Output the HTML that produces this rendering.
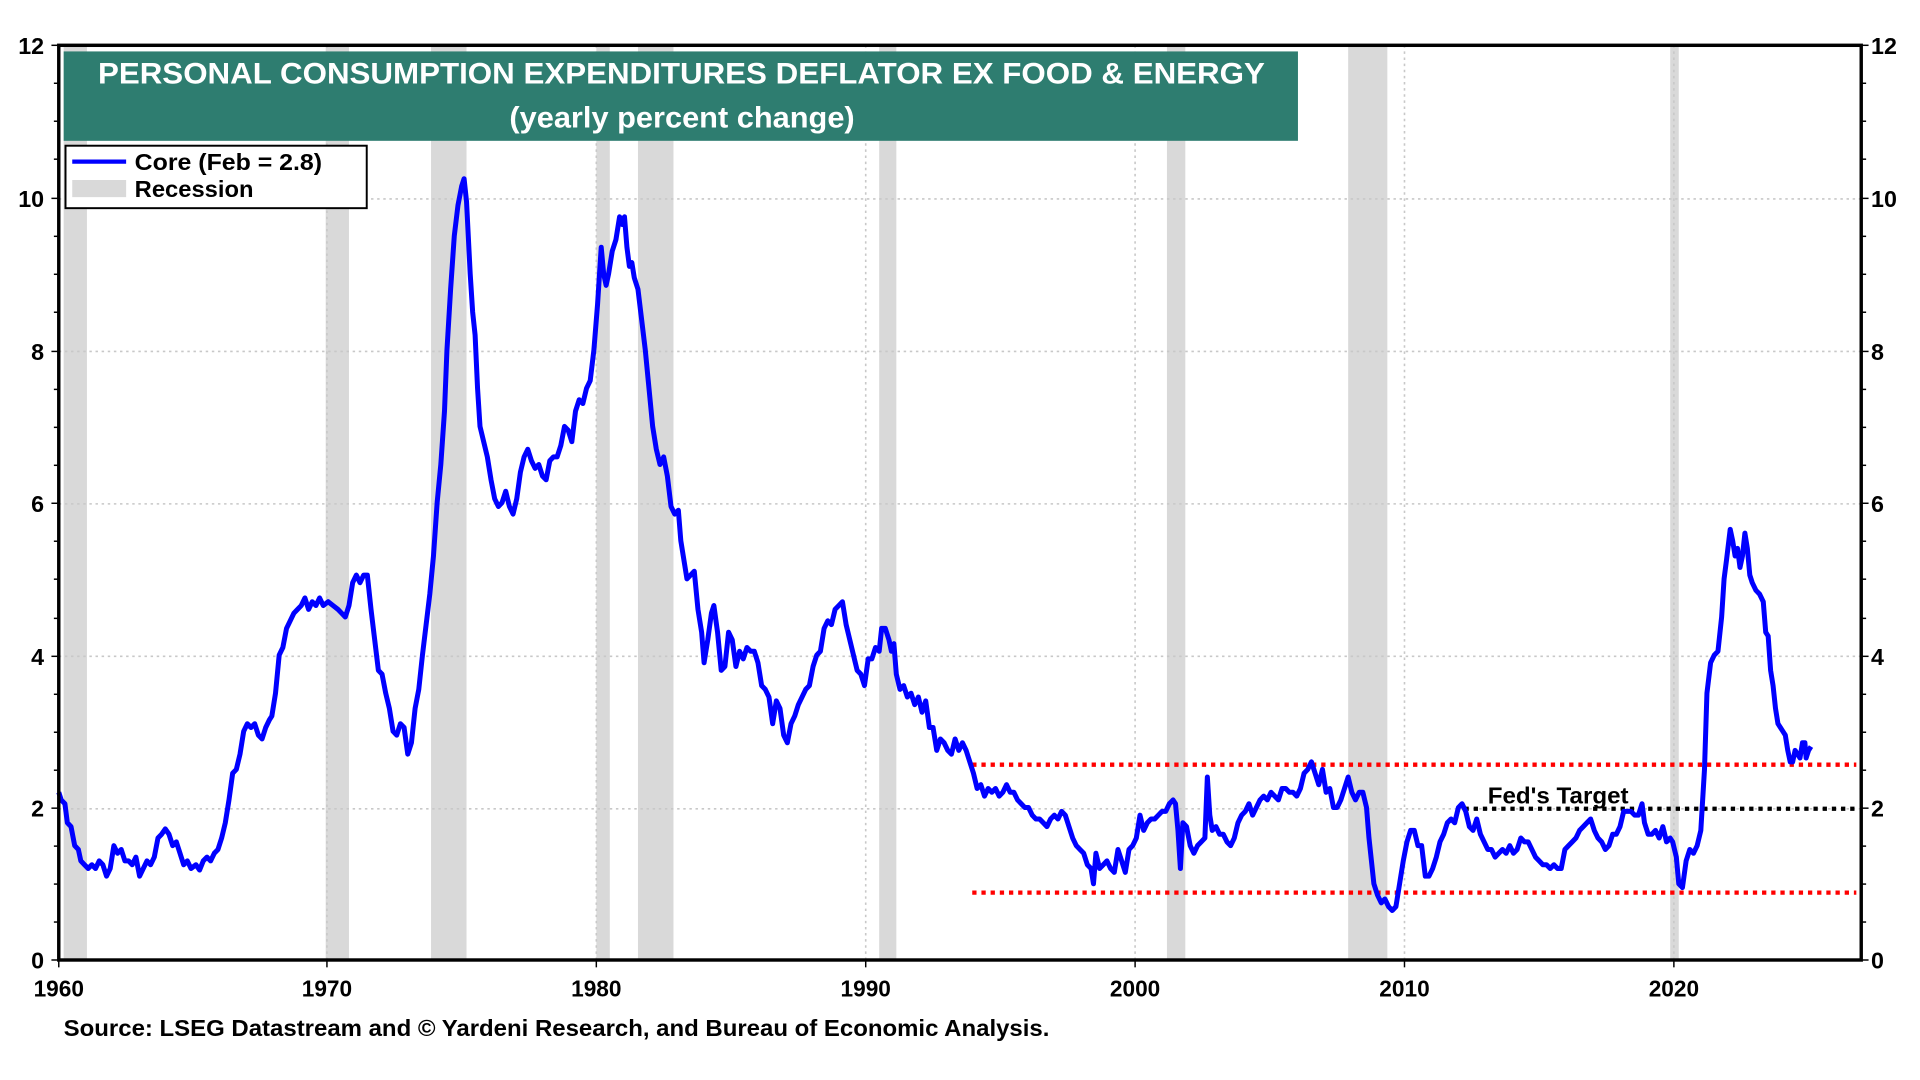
<!DOCTYPE html>
<html><head><meta charset="utf-8"><style>
html,body{margin:0;padding:0;background:#fff}
svg{display:block}
text{font-family:"Liberation Sans",Arial,sans-serif;font-weight:bold}
</style></head><body>
<svg width="1920" height="1080" viewBox="0 0 1568 882" xmlns="http://www.w3.org/2000/svg">
<rect width="1568" height="882" fill="#fff"/>
<g fill="#d9d9d9">
<rect x="52" y="37" width="19" height="747"/>
<rect x="266" y="37" width="19" height="747"/>
<rect x="352" y="37" width="29" height="747"/>
<rect x="487" y="37" width="11" height="747"/>
<rect x="521" y="37" width="29" height="747"/>
<rect x="718" y="37" width="14" height="747"/>
<rect x="953" y="37" width="15" height="747"/>
<rect x="1101" y="37" width="32" height="747"/>
<rect x="1364" y="37" width="7" height="747"/>
</g>
<g stroke="#c8c8c8" stroke-width="1.3" stroke-dasharray="2,3">
<line x1="48" x2="1520" y1="162.5" y2="162.5"/>
<line x1="48" x2="1520" y1="287" y2="287"/>
<line x1="48" x2="1520" y1="411.5" y2="411.5"/>
<line x1="48" x2="1520" y1="536" y2="536"/>
<line x1="48" x2="1520" y1="660.5" y2="660.5"/>
<line x1="267" x2="267" y1="37" y2="784"/>
<line x1="487" x2="487" y1="37" y2="784"/>
<line x1="707" x2="707" y1="37" y2="784"/>
<line x1="927" x2="927" y1="37" y2="784"/>
<line x1="1147" x2="1147" y1="37" y2="784"/>
<line x1="1367" x2="1367" y1="37" y2="784"/>
</g>
<g stroke-width="3.5" stroke-dasharray="3.5,4">
<line x1="794" x2="1516" y1="624.5" y2="624.5" stroke="#ff0000"/>
<line x1="794" x2="1516" y1="729" y2="729" stroke="#ff0000"/>
<line x1="1196" x2="1516" y1="660.5" y2="660.5" stroke="#000"/>
</g>
<text x="1215" y="656" font-size="19" textLength="115" lengthAdjust="spacingAndGlyphs">Fed's Target</text>
<g transform="translate(0,784) scale(1,-62.25)">
<polyline fill="none" stroke="#0000ff" stroke-width="5" vector-effect="non-scaling-stroke" stroke-linejoin="round" points="
48,2.2 50,2.1 53,2.05 55,1.8 58,1.75 61,1.5 64,1.45 66,1.3 69,1.25 72,1.2 75,1.25 78,1.2 81,1.3 84,1.25 87,1.1 90,1.2 93,1.5 96,1.4 99,1.45 102,1.3 105,1.3 108,1.25 111,1.35 114,1.1 117,1.2 120,1.3 123,1.25 126,1.35 129,1.6 132,1.65 135,1.72 138,1.65 141,1.5 144,1.55 147,1.4 150,1.25 153,1.3 156,1.2 160,1.25 163,1.18 166,1.3 169,1.35 172,1.3 175,1.4 178,1.45 181,1.6 184,1.8 187,2.1 190,2.45 193,2.5 196,2.7 199,3.0 202,3.1 205,3.05 208,3.1 211,2.95 214,2.9 217,3.05 220,3.15 222,3.2 225,3.5 228,4.0 231,4.1 234,4.35 237,4.45 240,4.55 243,4.6 246,4.65 249,4.75 252,4.6 255,4.7 258,4.65 261,4.75 264,4.65 268,4.7 272,4.65 276,4.6 279,4.55 282,4.5 285,4.65 288,4.95 291,5.05 294,4.95 297,5.05 300,5.05 303,4.6 306,4.2 309,3.8 312,3.75 315,3.5 318,3.3 321,3.0 324,2.95 327,3.1 330,3.05 333,2.7 336,2.85 339,3.3 342,3.55 345,4.0 348,4.4 351,4.8 354,5.3 357,6.0 360,6.5 363,7.2 365,8.0 368,8.8 371,9.5 374,9.9 377,10.15 379,10.25 381,9.95 384,9.0 386,8.5 388,8.2 390,7.5 392,7.0 395,6.8 398,6.6 401,6.3 404,6.05 407,5.95 410,6.0 413,6.15 416,5.95 419,5.85 422,6.05 425,6.4 428,6.6 431,6.7 434,6.55 437,6.45 440,6.5 443,6.35 446,6.3 449,6.55 452,6.6 455,6.6 458,6.75 461,7.0 464,6.95 467,6.8 470,7.2 473,7.35 476,7.3 479,7.5 482,7.6 485,8.0 488,8.6 491,9.35 493,9.0 495,8.85 497,9.0 500,9.3 503,9.45 506,9.75 508,9.65 510,9.75 512,9.35 514,9.1 516,9.15 518,8.95 521,8.8 524,8.4 527,8.0 530,7.5 533,7.0 536,6.7 539,6.5 542,6.6 545,6.35 548,5.95 551,5.85 554,5.9 556,5.5 558,5.3 561,5.0 564,5.05 567,5.1 570,4.6 573,4.3 575,3.9 578,4.2 581,4.55 583,4.65 586,4.3 589,3.8 592,3.85 595,4.3 598,4.2 601,3.85 604,4.05 607,3.95 610,4.1 613,4.05 616,4.05 619,3.9 622,3.6 625,3.55 628,3.45 631,3.1 634,3.4 637,3.3 640,2.95 643,2.85 646,3.1 649,3.2 652,3.35 655,3.45 658,3.55 661,3.6 664,3.85 667,4.0 670,4.05 673,4.35 676,4.45 679,4.4 682,4.6 685,4.65 688,4.7 691,4.4 694,4.2 697,4.0 700,3.8 703,3.75 706,3.6 709,3.95 712,3.95 715,4.1 718,4.05 720,4.35 723,4.35 726,4.2 728,4.05 730,4.15 732,3.75 735,3.55 738,3.6 741,3.45 744,3.5 747,3.35 750,3.45 753,3.25 756,3.4 759,3.05 762,3.05 765,2.75 768,2.9 771,2.85 774,2.75 777,2.7 780,2.9 783,2.75 786,2.85 789,2.75 792,2.6 795,2.45 798,2.25 801,2.3 804,2.15 807,2.25 810,2.2 813,2.25 816,2.15 819,2.2 822,2.3 825,2.2 828,2.2 831,2.1 834,2.05 837,2.0 840,2.0 843,1.9 846,1.85 849,1.85 852,1.8 855,1.75 858,1.85 861,1.9 864,1.85 867,1.95 870,1.9 873,1.75 876,1.6 879,1.5 882,1.45 885,1.4 888,1.25 891,1.2 893,1.0 895,1.4 898,1.2 901,1.25 904,1.3 907,1.2 910,1.15 913,1.45 916,1.3 919,1.15 922,1.45 925,1.5 928,1.6 931,1.9 934,1.7 937,1.8 940,1.85 943,1.85 946,1.9 949,1.95 952,1.95 955,2.05 958,2.1 960,2.05 962,1.7 964,1.2 966,1.8 969,1.75 972,1.5 975,1.4 978,1.5 981,1.55 984,1.6 986,2.4 988,1.9 990,1.7 993,1.75 996,1.65 999,1.65 1002,1.55 1005,1.5 1008,1.6 1011,1.8 1014,1.9 1017,1.95 1020,2.05 1023,1.9 1026,2.0 1029,2.1 1032,2.15 1035,2.1 1038,2.2 1041,2.15 1044,2.1 1047,2.25 1050,2.25 1053,2.2 1056,2.2 1059,2.15 1062,2.25 1065,2.45 1068,2.5 1071,2.6 1074,2.45 1077,2.3 1080,2.5 1083,2.2 1086,2.25 1089,2.0 1092,2.0 1095,2.1 1098,2.25 1101,2.4 1104,2.2 1107,2.1 1110,2.2 1113,2.2 1116,2.0 1118,1.6 1120,1.3 1122,1.0 1125,0.85 1128,0.75 1131,0.8 1134,0.7 1137,0.65 1140,0.7 1143,1.0 1146,1.3 1149,1.55 1152,1.7 1155,1.7 1158,1.5 1161,1.5 1164,1.1 1167,1.1 1170,1.2 1173,1.35 1176,1.55 1179,1.65 1182,1.8 1185,1.85 1188,1.8 1191,2.0 1194,2.05 1197,1.95 1200,1.75 1203,1.7 1206,1.85 1209,1.65 1212,1.55 1215,1.45 1218,1.45 1221,1.35 1224,1.4 1227,1.45 1230,1.4 1233,1.5 1236,1.4 1239,1.45 1242,1.6 1245,1.55 1248,1.55 1251,1.45 1254,1.35 1257,1.3 1260,1.25 1263,1.25 1266,1.2 1269,1.25 1272,1.2 1275,1.2 1278,1.45 1281,1.5 1284,1.55 1287,1.6 1290,1.7 1293,1.75 1296,1.8 1299,1.85 1302,1.7 1305,1.6 1308,1.55 1311,1.45 1314,1.5 1317,1.65 1320,1.65 1323,1.75 1326,1.95 1329,1.95 1332,1.95 1335,1.9 1338,1.9 1341,2.05 1343,1.8 1346,1.65 1349,1.65 1352,1.7 1355,1.6 1358,1.75 1361,1.55 1364,1.6 1366,1.55 1369,1.35 1371,1.0 1374,0.95 1377,1.3 1380,1.45 1383,1.4 1386,1.5 1389,1.7 1392,2.5 1394,3.5 1397,3.9 1400,4.0 1403,4.05 1406,4.5 1408,5.0 1410,5.25 1413,5.65 1415,5.5 1417,5.3 1419,5.4 1421,5.15 1423,5.3 1425,5.6 1427,5.4 1429,5.05 1431,4.95 1434,4.85 1437,4.8 1440,4.7 1442,4.3 1444,4.25 1446,3.8 1448,3.6 1450,3.3 1452,3.1 1454,3.05 1456,3.0 1458,2.95 1460,2.75 1462,2.6 1464,2.6 1466,2.75 1468,2.7 1470,2.65 1472,2.85 1474,2.85 1475,2.65 1477,2.75 1479,2.8"/>
</g>
<rect x="52" y="42" width="1008" height="73" fill="#2e7d70"/>
<text x="80" y="68" font-size="24" fill="#fff" textLength="953" lengthAdjust="spacingAndGlyphs">PERSONAL CONSUMPTION EXPENDITURES DEFLATOR EX FOOD &amp; ENERGY</text>
<text x="416" y="104" font-size="24" fill="#fff" textLength="282" lengthAdjust="spacingAndGlyphs">(yearly percent change)</text>
<rect x="53.5" y="119" width="246" height="51" fill="#fff" stroke="#000" stroke-width="1.6"/>
<line x1="59" x2="103" y1="132" y2="132" stroke="#0000ff" stroke-width="3.5"/>
<rect x="59" y="147" width="44" height="14" fill="#d9d9d9"/>
<text x="110" y="139" font-size="19" textLength="153" lengthAdjust="spacingAndGlyphs">Core  (Feb = 2.8)</text>
<text x="110" y="161" font-size="19" textLength="97" lengthAdjust="spacingAndGlyphs">Recession</text>
<rect x="48" y="37" width="1472" height="747" fill="none" stroke="#000" stroke-width="2.8"/>
<g stroke="#000" stroke-width="1.2">
<line x1="42" x2="48" y1="37" y2="37"/><line x1="44" x2="48" y1="68" y2="68"/><line x1="44" x2="48" y1="99" y2="99"/><line x1="44" x2="48" y1="130" y2="130"/><line x1="42" x2="48" y1="162" y2="162"/><line x1="44" x2="48" y1="193" y2="193"/><line x1="44" x2="48" y1="224" y2="224"/><line x1="44" x2="48" y1="255" y2="255"/><line x1="42" x2="48" y1="287" y2="287"/><line x1="44" x2="48" y1="318" y2="318"/><line x1="44" x2="48" y1="349" y2="349"/><line x1="44" x2="48" y1="380" y2="380"/><line x1="42" x2="48" y1="411" y2="411"/><line x1="44" x2="48" y1="442" y2="442"/><line x1="44" x2="48" y1="473" y2="473"/><line x1="44" x2="48" y1="505" y2="505"/><line x1="42" x2="48" y1="536" y2="536"/><line x1="44" x2="48" y1="567" y2="567"/><line x1="44" x2="48" y1="598" y2="598"/><line x1="44" x2="48" y1="629" y2="629"/><line x1="42" x2="48" y1="660" y2="660"/><line x1="44" x2="48" y1="691" y2="691"/><line x1="44" x2="48" y1="722" y2="722"/><line x1="44" x2="48" y1="753" y2="753"/><line x1="42" x2="48" y1="784" y2="784"/>
<line x1="1520" x2="1526" y1="37" y2="37"/><line x1="1520" x2="1524" y1="68" y2="68"/><line x1="1520" x2="1524" y1="99" y2="99"/><line x1="1520" x2="1524" y1="130" y2="130"/><line x1="1520" x2="1526" y1="162" y2="162"/><line x1="1520" x2="1524" y1="193" y2="193"/><line x1="1520" x2="1524" y1="224" y2="224"/><line x1="1520" x2="1524" y1="255" y2="255"/><line x1="1520" x2="1526" y1="287" y2="287"/><line x1="1520" x2="1524" y1="318" y2="318"/><line x1="1520" x2="1524" y1="349" y2="349"/><line x1="1520" x2="1524" y1="380" y2="380"/><line x1="1520" x2="1526" y1="411" y2="411"/><line x1="1520" x2="1524" y1="442" y2="442"/><line x1="1520" x2="1524" y1="473" y2="473"/><line x1="1520" x2="1524" y1="505" y2="505"/><line x1="1520" x2="1526" y1="536" y2="536"/><line x1="1520" x2="1524" y1="567" y2="567"/><line x1="1520" x2="1524" y1="598" y2="598"/><line x1="1520" x2="1524" y1="629" y2="629"/><line x1="1520" x2="1526" y1="660" y2="660"/><line x1="1520" x2="1524" y1="691" y2="691"/><line x1="1520" x2="1524" y1="722" y2="722"/><line x1="1520" x2="1524" y1="753" y2="753"/><line x1="1520" x2="1526" y1="784" y2="784"/>
<line x1="48" x2="48" y1="784" y2="790"/><line x1="267" x2="267" y1="784" y2="790"/><line x1="487" x2="487" y1="784" y2="790"/><line x1="707" x2="707" y1="784" y2="790"/><line x1="927" x2="927" y1="784" y2="790"/><line x1="1147" x2="1147" y1="784" y2="790"/><line x1="1367" x2="1367" y1="784" y2="790"/>
</g>
<g font-size="19" text-anchor="end">
<text x="36" y="44">12</text><text x="36" y="169">10</text><text x="36" y="294">8</text><text x="36" y="418">6</text><text x="36" y="543">4</text><text x="36" y="667">2</text><text x="36" y="791">0</text>
</g>
<g font-size="19" text-anchor="start">
<text x="1528" y="44">12</text><text x="1528" y="169">10</text><text x="1528" y="294">8</text><text x="1528" y="418">6</text><text x="1528" y="543">4</text><text x="1528" y="667">2</text><text x="1528" y="791">0</text>
</g>
<g font-size="18.5" text-anchor="middle">
<text x="48" y="814">1960</text><text x="267" y="814">1970</text><text x="487" y="814">1980</text><text x="707" y="814">1990</text><text x="927" y="814">2000</text><text x="1147" y="814">2010</text><text x="1367" y="814">2020</text>
</g>
<text x="52" y="846" font-size="19" textLength="805" lengthAdjust="spacingAndGlyphs">Source: LSEG Datastream and © Yardeni Research, and Bureau of Economic Analysis.</text>
</svg>
</body></html>
